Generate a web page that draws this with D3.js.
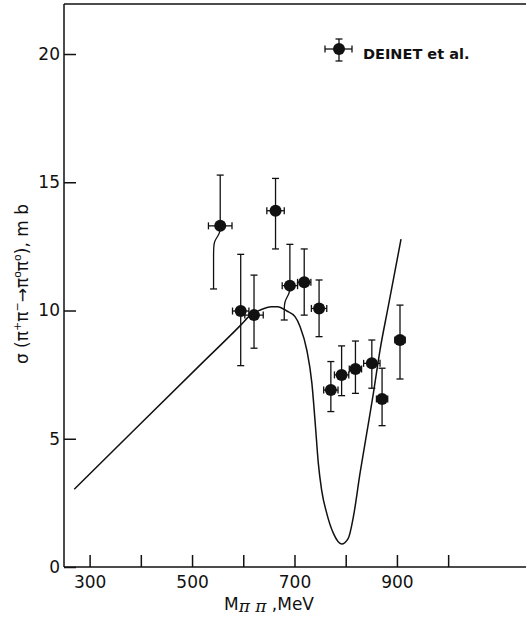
<!DOCTYPE html>
<html>
<head>
<meta charset="utf-8">
<script src="https://cdn.jsdelivr.net/npm/d3@7"></script>
<style>
  body { margin: 0; background: #fff; }
  svg { display: block; }
</style>
</head>
<body>
<svg id="chart"></svg>
<script>
// DEINET et al. data points (mass in MeV, cross section in mb)
var pointMass  = [555, 595, 621, 663, 691, 719, 748, 771, 792, 819, 851, 871, 906];
var pointSigma = [13.3, 9.98, 9.82, 13.89, 10.97, 11.1, 10.08, 6.9, 7.49, 7.72, 7.94, 6.55, 8.85];
var errUp      = [15.28, 12.19, 11.38, 15.15, 12.58, 12.4, 11.19, 8.01, 8.62, 8.81, 8.85, 7.75, 10.21];
var errDown    = [10.84, 7.85, 8.53, 12.4, 9.63, 9.82, 8.98, 6.06, 6.68, 6.77, 6.97, 5.51, 7.33];
var errMass    = [23, 16, 18, 17, 15, 13, 15, 14, 14, 12, 16, 11, 10];
// x position of lower bar where it is drawn bent away from the point
var lowBarMass = [542, null, null, null, 680, null, null, null, null, null, null, null, null];

// theory curve
var curveMass  = [270, 385, 515, 595, 613, 633, 655, 667, 685, 701, 711, 724, 734, 741, 746.5, 753, 763, 776, 792, 805, 815, 828, 841, 854, 867, 883, 908];
var curveSigma = [3.03, 5.3, 7.86, 9.43, 9.8, 10.02, 10.15, 10.15, 9.98, 9.76, 9.37, 8.46, 7.16, 5.47, 4.05, 3.0, 2.09, 1.31, 0.9, 1.12, 1.96, 3.66, 5.21, 6.77, 8.46, 10.15, 12.78];

var xTicks = [300, 400, 500, 600, 700, 800, 900, 1000];
var xLabels = [300, 500, 700, 900];
var yTicks = [0, 5, 10, 15, 20];

var svgWidth = 526, svgHeight = 618;
var fontFam = "'DejaVu Sans', sans-serif";

var svg = d3.select('#chart')
    .attr("width", svgWidth)
    .attr("height", svgHeight);

var x = d3.scaleLinear().domain([250, 1152]).range([64, 526]);
var y = d3.scaleLinear().domain([0, 21.95]).range([567, 4]);

// frame: top border
svg.append("line")
    .attr("x1", x(250)).attr("x2", svgWidth)
    .attr("y1", y(21.95)).attr("y2", y(21.95))
    .attr("stroke", "#111").attr("stroke-width", 1.5);

// x axis, ticks pointing up
var xAxis = svg.append("g")
    .attr("transform", "translate(0," + y(0) + ")")
    .call(d3.axisBottom(x).tickValues(xTicks).tickSize(-12).tickFormat(function(d) {
        return xLabels.indexOf(d) >= 0 ? d : "";
    }));
xAxis.select(".domain").attr("d", "M" + x(250) + ",0H" + svgWidth);

// y axis, ticks pointing right
var yAxis = svg.append("g")
    .attr("transform", "translate(" + x(250) + ",0)")
    .call(d3.axisLeft(y).tickValues(yTicks).tickSize(-12).tickPadding(4));
yAxis.select(".domain").attr("d", "M0," + y(21.95) + "V" + y(0));

svg.selectAll(".domain").attr("stroke", "#111").attr("stroke-width", 1.5);
svg.selectAll(".tick line").attr("stroke", "#111").attr("stroke-width", 1.5);
svg.selectAll(".tick text")
    .attr("fill", "#111")
    .style("font-family", fontFam)
    .style("font-size", "17px");
xAxis.selectAll(".tick text").attr("dy", "1.04em");

// x axis title
var xt = svg.append("text")
    .attr("x", 269).attr("y", 610)
    .attr("text-anchor", "middle")
    .attr("fill", "#111")
    .style("font-family", fontFam)
    .style("font-size", "17px");
xt.append("tspan").text("M");
xt.append("tspan").attr("dy", 2).style("font-style", "italic").style("font-family", "'DejaVu Serif', serif").text("\u03C0 \u03C0");
xt.append("tspan").attr("dy", -2).text(" ,MeV");

// y axis title
var yt = svg.append("text")
    .attr("transform", "translate(28,284) rotate(-90)")
    .attr("text-anchor", "middle")
    .attr("fill", "#111")
    .style("font-family", fontFam)
    .style("font-size", "17px");
yt.append("tspan").text("\u03C3  (\u03C0");
yt.append("tspan").attr("dy", -7).style("font-size", "11px").text("+");
yt.append("tspan").attr("dy", 7).text("\u03C0");
yt.append("tspan").attr("dy", -7).style("font-size", "11px").text("\u2212");
yt.append("tspan").attr("dy", 7).text("\u2192\u03C0");
yt.append("tspan").attr("dy", -7).style("font-size", "11px").text("o");
yt.append("tspan").attr("dy", 7).text("\u03C0");
yt.append("tspan").attr("dy", -7).style("font-size", "11px").text("o");
yt.append("tspan").attr("dy", 7).text("), m b");

// theory curve
var curveData = curveMass.map(function(m, i) { return { m: m, s: curveSigma[i] }; });
var line = d3.line()
    .x(function(d) { return x(d.m); })
    .y(function(d) { return y(d.s); })
    .curve(d3.curveMonotoneX);

svg.append("path")
    .datum(curveData)
    .attr("fill", "none")
    .attr("stroke", "#111")
    .attr("stroke-width", 1.5)
    .attr("d", line);

// data points with error bars
var pts = pointMass.map(function(m, i) {
    return { m: m, s: pointSigma[i], hi: errUp[i], lo: errDown[i], dm: errMass[i], lowM: lowBarMass[i] };
});

var cap = 3.5;
var g = svg.append("g").attr("stroke", "#111").attr("stroke-width", 1.3).attr("fill", "none");
var bentLine = d3.line().x(function(d) { return x(d[0]); }).y(function(d) { return y(d[1]); }).curve(d3.curveBasis);

pts.forEach(function(d) {
    var cx = x(d.m);
    // upper bar
    g.append("line").attr("x1", cx).attr("x2", cx).attr("y1", y(d.s)).attr("y2", y(d.hi));
    g.append("line").attr("x1", cx - cap).attr("x2", cx + cap).attr("y1", y(d.hi)).attr("y2", y(d.hi));
    // lower bar
    var lx = d.lowM ? x(d.lowM) : cx;
    if (d.lowM) {
        g.append("path").attr("d", bentLine([[d.m, d.s], [d.m, d.s - 0.3], [d.lowM, d.s - 0.6], [d.lowM, d.s - 1.0], [d.lowM, d.lo]]));
    } else {
        g.append("line").attr("x1", cx).attr("x2", cx).attr("y1", y(d.s)).attr("y2", y(d.lo));
    }
    g.append("line").attr("x1", lx - cap).attr("x2", lx + cap).attr("y1", y(d.lo)).attr("y2", y(d.lo));
    // horizontal bar
    g.append("line").attr("x1", x(d.m - d.dm)).attr("x2", x(d.m + d.dm)).attr("y1", y(d.s)).attr("y2", y(d.s));
    g.append("line").attr("x1", x(d.m - d.dm)).attr("x2", x(d.m - d.dm)).attr("y1", y(d.s) - cap).attr("y2", y(d.s) + cap);
    g.append("line").attr("x1", x(d.m + d.dm)).attr("x2", x(d.m + d.dm)).attr("y1", y(d.s) - cap).attr("y2", y(d.s) + cap);
});

svg.append("g").selectAll("circle")
    .data(pts)
    .enter().append("circle")
    .attr("cx", function(d) { return x(d.m); })
    .attr("cy", function(d) { return y(d.s); })
    .attr("r", 6)
    .attr("fill", "#111");

// legend
var lg = svg.append("g").attr("transform", "translate(339,49)");
lg.append("line").attr("x1", -14).attr("x2", 13).attr("y1", 0).attr("y2", 0).attr("stroke", "#111").attr("stroke-width", 1.3);
lg.append("line").attr("x1", 0).attr("x2", 0).attr("y1", -10).attr("y2", 12).attr("stroke", "#111").attr("stroke-width", 1.3);
[[-14, -14, -cap, cap], [13, 13, -cap, cap]].forEach(function(c) {
    lg.append("line").attr("x1", c[0]).attr("x2", c[1]).attr("y1", c[2]).attr("y2", c[3]).attr("stroke", "#111").attr("stroke-width", 1.3);
});
[[-cap, cap, -10, -10], [-cap, cap, 12, 12]].forEach(function(c) {
    lg.append("line").attr("x1", c[0]).attr("x2", c[1]).attr("y1", c[2]).attr("y2", c[3]).attr("stroke", "#111").attr("stroke-width", 1.3);
});
lg.append("circle").attr("r", 6).attr("fill", "#111");
lg.append("text")
    .attr("x", 24).attr("y", 10)
    .attr("fill", "#111")
    .style("font-family", fontFam)
    .style("font-weight", "bold")
    .style("font-size", "14.5px")
    .text("DEINET  et al.");
</script>
</body>
</html>
